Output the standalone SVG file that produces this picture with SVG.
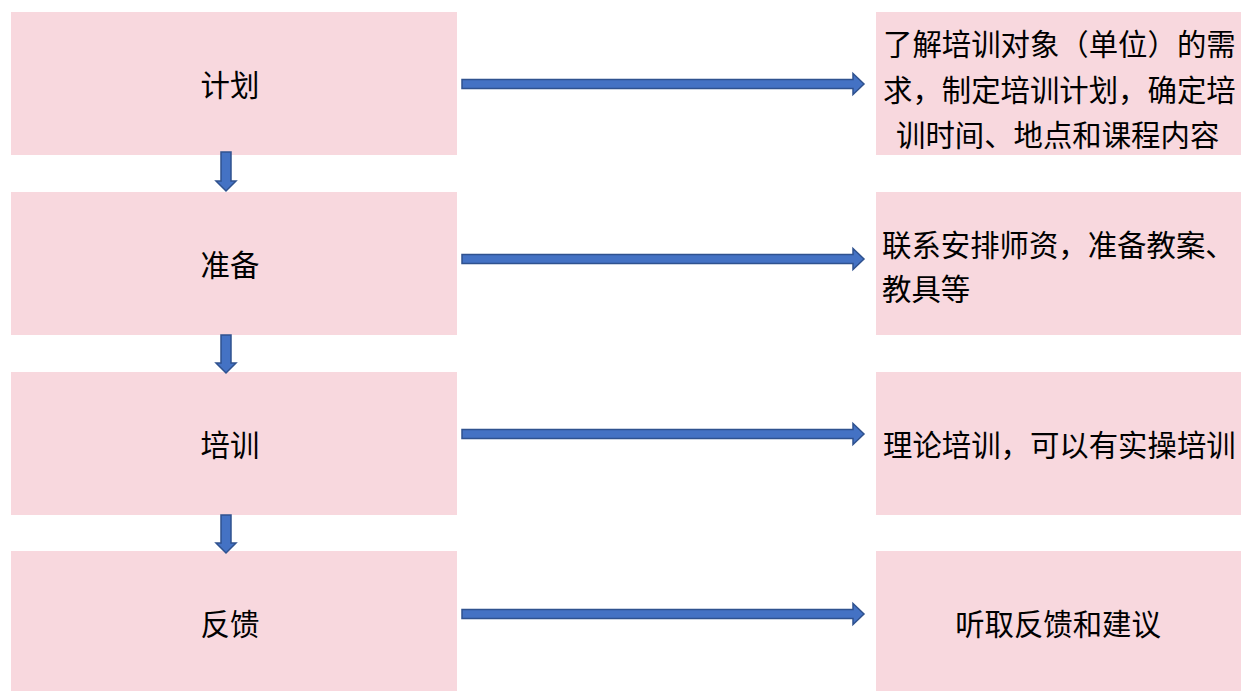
<svg xmlns="http://www.w3.org/2000/svg" width="1243" height="691" viewBox="0 0 1243 691">
<style>
.box{fill:#F8D8DE}
.t{font-family:"Noto Sans CJK SC","Noto Sans",sans-serif;font-size:29.4px;fill:#000;dominant-baseline:central}
.arr{fill:#4472C4;stroke:#2F528F;stroke-width:1.5}
</style>
<rect width="1243" height="691" fill="#fff"/>
<g id="n-plan"><rect class="box" x="11" y="12" width="446" height="143"/><text class="t" x="230" y="83" text-anchor="middle">计划</text></g>
<g id="n-prep"><rect class="box" x="11" y="192" width="446" height="143"/><text class="t" x="230" y="263" text-anchor="middle">准备</text></g>
<g id="n-train"><rect class="box" x="11" y="372" width="446" height="143"/><text class="t" x="230" y="443" text-anchor="middle">培训</text></g>
<g id="n-feedback"><rect class="box" x="11" y="551" width="446" height="140"/><text class="t" x="230" y="622" text-anchor="middle">反馈</text></g>
<g id="d-plan"><rect class="box" x="876" y="12" width="365" height="143"/>
<text class="t" x="883" y="42">了解培训对象（单位）的需</text>
<text class="t" x="883" y="88">求，制定培训计划，确定培</text>
<text class="t" x="896" y="133">训时间、地点和课程内容</text></g>
<g id="d-prep"><rect class="box" x="876" y="192" width="365" height="143"/>
<text class="t" x="882" y="243">联系安排师资，准备教案、</text>
<text class="t" x="882" y="287">教具等</text></g>
<g id="d-train"><rect class="box" x="876" y="372" width="365" height="143"/>
<text class="t" x="883" y="443">理论培训，可以有实操培训</text></g>
<g id="d-feedback"><rect class="box" x="876" y="551" width="365" height="140"/>
<text class="t" x="1058" y="622" text-anchor="middle">听取反馈和建议</text></g>
<g id="connectors">
<path class="arr" d="M462 79.5H853V73.5L864 84L853 94.5V88.5H462Z"/>
<path class="arr" d="M462 254.5H853V248.5L864 259L853 269.5V263.5H462Z"/>
<path class="arr" d="M462 429.5H853V423.5L864 434L853 444.5V438.5H462Z"/>
<path class="arr" d="M462 609.5H853V603.5L864 614L853 624.5V618.5H462Z"/>
<path class="arr" d="M221 152H231V181H236L226 191L216 181H221Z"/>
<path class="arr" d="M221 335H231V363H236L226 373L216 363H221Z"/>
<path class="arr" d="M221 515H231V543H236L226 553L216 543H221Z"/>
</g>
</svg>
